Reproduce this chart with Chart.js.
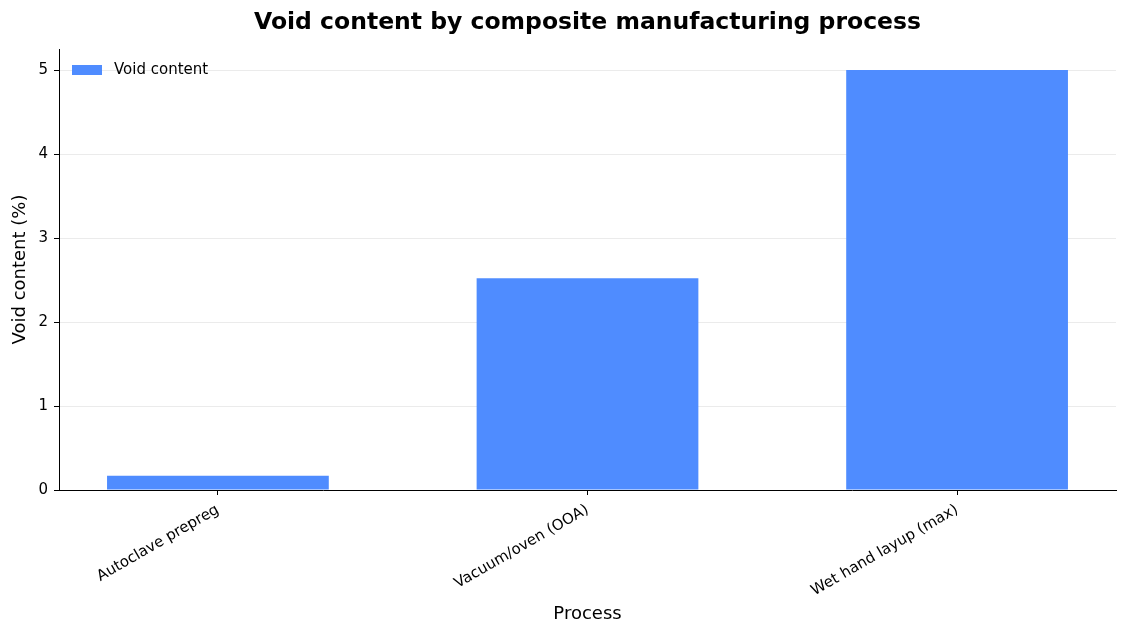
<!DOCTYPE html>
<html>
<head>
<meta charset="utf-8">
<script src="https://cdn.jsdelivr.net/npm/chart.js@4.4.1/dist/chart.umd.min.js"></script>
<style>
    body { margin: 0; background: #fff; }
    #contenedor { width: 1127px; height: 635px; }
</style>
</head>
<body>
<div id="contenedor"><canvas id="vacios"></canvas></div>
<script>
var procesos = ['Autoclave prepreg', 'Vacuum/oven (OOA)', 'Wet hand layup (max)'];
var contenidoVacios = [0.17, 2.52, 5.0];
var ticksY = [0, 1, 2, 3, 4, 5];

var puntos = [];
for (var i = 0; i < procesos.length; i++) {
    puntos.push({x: i, y: contenidoVacios[i]});
}

var fuente = "'DejaVu Sans', sans-serif";
var tituloGrafico = 'Void content by composite manufacturing process';

// titulo centrado sobre el area del grafico y leyenda dentro del area (arriba a la izquierda)
var pluginTituloLeyenda = {
    id: 'tituloLeyenda',
    afterDraw: function (chart) {
        var c = chart.ctx;
        var area = chart.chartArea;
        var ds = chart.data.datasets[0];
        c.save();
        c.fillStyle = '#000';
        c.font = 'bold 23.5px ' + fuente;
        c.textAlign = 'center';
        c.textBaseline = 'middle';
        c.fillText(tituloGrafico, (area.left + area.right) / 2, 23);

        c.fillStyle = ds.backgroundColor;
        c.fillRect(area.left + 13, area.top + 16, 30, 10);
        c.fillStyle = '#000';
        c.font = '15px ' + fuente;
        c.textAlign = 'left';
        c.fillText(ds.label, area.left + 55, area.top + 21);
        c.restore();
    }
};

var ctx = document.getElementById('vacios');
new Chart(ctx, {
    type: 'bar',
    data: {
        datasets: [{
            label: 'Void content',
            data: puntos,
            backgroundColor: '#4f8cff',
            borderWidth: 0,
            categoryPercentage: 1,
            barPercentage: 0.6
        }]
    },
    options: {
        responsive: true,
        maintainAspectRatio: false,
        animation: false,
        layout: {
            padding: {left: 10, right: 11, top: 49, bottom: 6}
        },
        plugins: {
            title: {display: false},
            legend: {display: false},
            tooltip: {enabled: false}
        },
        scales: {
            x: {
                type: 'linear',
                min: -0.43,
                max: 2.43,
                offset: false,
                afterBuildTicks: function (scale) {
                    scale.ticks = procesos.map(function (p, i) { return {value: i}; });
                },
                afterFit: function (scale) {
                    scale.height = 139;
                },
                ticks: {
                    autoSkip: false,
                    maxRotation: 30,
                    minRotation: 30,
                    color: '#000',
                    font: {family: fuente, size: 15},
                    padding: 6,
                    callback: function (valor) {
                        return procesos[valor];
                    }
                },
                grid: {
                    offset: false,
                    drawOnChartArea: false,
                    tickColor: '#000',
                    tickLength: 5
                },
                border: {color: '#000', width: 1},
                title: {
                    display: true,
                    text: 'Process',
                    color: '#000',
                    font: {family: fuente, size: 18},
                    padding: {top: 2, bottom: 4}
                }
            },
            y: {
                min: 0,
                max: 5.25,
                afterBuildTicks: function (scale) {
                    scale.ticks = ticksY.map(function (v) { return {value: v}; });
                },
                afterFit: function (scale) {
                    scale.width = 49;
                },
                ticks: {
                    color: '#000',
                    font: {family: fuente, size: 15},
                    padding: 6
                },
                grid: {
                    color: '#ebebeb',
                    tickColor: '#000',
                    tickLength: 5
                },
                border: {color: '#000', width: 1},
                title: {
                    display: true,
                    text: 'Void content (%)',
                    color: '#000',
                    font: {family: fuente, size: 18},
                    padding: {top: 0, bottom: 4}
                }
            }
        }
    },
    plugins: [pluginTituloLeyenda]
});
</script>
</body>
</html>
